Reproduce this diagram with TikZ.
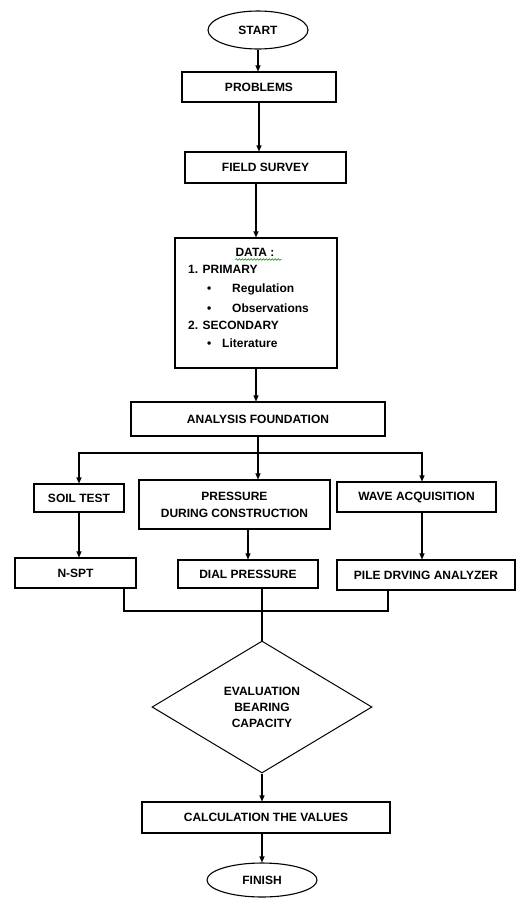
\documentclass[tikz,border=0pt]{standalone}
\usepackage{fontspec}
\setmainfont{Liberation Sans}
\usetikzlibrary{shapes.geometric,arrows.meta,decorations.pathmorphing}
\begin{document}
\begin{tikzpicture}[x=1pt,y=-1pt,
  every node/.style={font=\fontsize{12}{14}\selectfont\bfseries, inner sep=0pt},
  box/.style={draw, line width=1.1pt, rectangle, align=center},
  oval/.style={draw, line width=1.1pt, ellipse},
  decide/.style={draw, line width=1pt, diamond, align=center},
  txt/.style={anchor=west, text height=8.6pt, text depth=0pt},
  link/.style={line width=1.1pt},
  arr/.style={line width=1.1pt, -{Triangle[length=6pt,width=5pt]}}]
\useasboundingbox (0,0) rectangle (516,898);
\fill[white] (0,0) rectangle (516,898);
% top chain
\node[oval, minimum width=100pt, minimum height=38pt] (start) at (258,30) {START};
\node[box, minimum width=154pt, minimum height=30pt] (problems) at (259,87) {PROBLEMS};
\node[box, minimum width=161pt, minimum height=31pt] (field) at (265.5,167.5) {FIELD SURVEY};
\node[box, minimum width=162pt, minimum height=130pt] (data) at (256,303) {};
\node[anchor=center, text height=8.6pt, text depth=0pt] (dtitle) at (255,252) {DATA :};
\draw[green!55!black, line width=0.6pt, decorate, decoration={snake, amplitude=0.8pt, segment length=3pt}] (dtitle.south west) ++(0,3) -- ++(46,0);
\node[txt] (prim) at (188,269) {1. PRIMARY};
\node[txt] (b1) at (207,288) {•};
\node[txt] (reg) at (232,288) {Regulation};
\node[txt] (b2) at (207,308) {•};
\node[txt] (obs) at (232,308) {Observations};
\node[txt] (sec) at (188,325) {2. SECONDARY};
\node[txt] (b3) at (207,343) {•};
\node[txt] (lit) at (222,343) {Literature};
\node[box, minimum width=254pt, minimum height=34pt] (analysis) at (258,419) {ANALYSIS FOUNDATION};
% second row
\node[box, minimum width=90pt, minimum height=28pt] (soil) at (79,498) {SOIL TEST};
\node[box, minimum width=191pt, minimum height=49pt] (pressure) at (234.5,504.5) {PRESSURE\\[3pt]DURING CONSTRUCTION};
\node[box, minimum width=159pt, minimum height=30pt] (wave) at (416.5,497) {WAVE ACQUISITION};
% third row
\node[box, minimum width=121pt, minimum height=30pt] (nspt) at (75.5,573) {N-SPT};
\node[box, minimum width=140pt, minimum height=28pt] (dial) at (248,574) {DIAL PRESSURE};
\node[box, minimum width=178pt, minimum height=30pt] (pile) at (426,575) {PILE DRVING ANALYZER};
% decision and end
\node[decide, minimum width=220pt, minimum height=132pt] (eval) at (262,707) {EVALUATION\\[2pt]BEARING\\[2pt]CAPACITY};
\node[box, minimum width=248pt, minimum height=31pt] (calc) at (266,817.5) {CALCULATION THE VALUES};
\node[oval, minimum width=110pt, minimum height=34pt] (finish) at (262,880) {FINISH};
% helper coordinates
\coordinate (bus) at (258,453);
\coordinate (wavex) at (422,0);
\coordinate (m1) at (124,611);
\coordinate (m3) at (388,611);
% connectors
\draw[arr] (start.south) -- (start.south |- problems.north);
\draw[arr] (problems.south) -- (problems.south |- field.north);
\draw[arr] (field.south -| data.north) -- (data.north);
\draw[arr] (data.south) -- (data.south |- analysis.north);
\draw[arr] (analysis.south) -- (analysis.south |- pressure.north);
\draw[arr] (bus) -| (soil.north);
\draw[arr] (bus) -| (wave.north -| wavex);
\draw[arr] (soil.south) -- (soil.south |- nspt.north);
\draw[arr] (pressure.south -| dial.north) -- (dial.north);
\draw[arr] (wave.south -| wavex) -- (pile.north -| wavex);
\draw[link] (nspt.south -| m1) -- (m1) -- (m3) -- (pile.south -| m3);
\draw[link] (dial.south -| eval.north) -- (eval.north);
\draw[arr] (eval.south) -- (eval.south |- calc.north);
\draw[arr] (calc.south -| finish.north) -- (finish.north);
\end{tikzpicture}
\end{document}
